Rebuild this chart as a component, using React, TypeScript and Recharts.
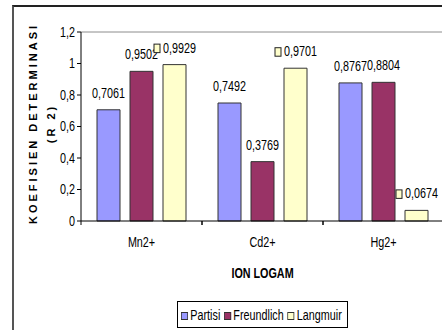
import { BarChart, Bar, XAxis, YAxis, LabelList, Legend, ReferenceLine } from "recharts";

// ion categories and R2 values per isotherm model
const ions = ["Mn2+", "Cd2+", "Hg2+"];
const partisi = [0.7061, 0.7492, 0.8767];
const freundlich = [0.9502, 0.3769, 0.8804];
const langmuir = [0.9929, 0.9701, 0.0674];
const yTicks = [0, 0.2, 0.4, 0.6, 0.8, 1, 1.2];

const series = [
  { key: "partisi", name: "Partisi", color: "#9999FF" },
  { key: "freundlich", name: "Freundlich", color: "#993366" },
  { key: "langmuir", name: "Langmuir", color: "#FFFFCC" },
];

const data = ions.map((ion, i) => ({
  ion,
  partisi: partisi[i],
  freundlich: freundlich[i],
  langmuir: langmuir[i],
}));

const FONT = "'Liberation Sans', Arial, sans-serif";
const SX = 0.77; // horizontal squeeze for the narrow label face

const comma = (v: number) => String(v).replace(".", ",");
const fmt4 = (v: any) => Number(v).toFixed(4).replace(".", ",");

const TICK = 4;
const TICK_GAP = 12;

function NText({ x, y, anchor = "middle", bold = false, dy, children }: any) {
  return (
    <text
      transform={`translate(${x},${y}) scale(${SX},1)`}
      textAnchor={anchor}
      dy={dy}
      fill="#000"
      fontFamily={FONT}
      fontSize={14}
      fontWeight={bold ? "bold" : "normal"}
    >
      {children}
    </text>
  );
}

// category label centred on the band, tick marks on the band edges
function IonTick(props: any) {
  const { x, y, payload, width, visibleTicksCount } = props;
  const half = width / visibleTicksCount / 2;
  const axisY = y - TICK - TICK_GAP;
  return (
    <g>
      <line x1={x - half} x2={x - half} y1={axisY} y2={axisY + TICK} stroke="#000" />
      <line x1={x + half} x2={x + half} y1={axisY} y2={axisY + TICK} stroke="#000" />
      <NText x={x} y={y} dy="0.71em">{payload.value}</NText>
    </g>
  );
}

function ValueTick(props: any) {
  const { x, y, payload } = props;
  return (
    <NText x={x} y={y} anchor="end" dy="0.355em">
      {comma(payload.value)}
    </NText>
  );
}

function XTitle(props: any) {
  const vb = props.viewBox;
  return (
    <NText x={vb.x + vb.width / 2} y={vb.y + vb.height - 3} bold>
      ION LOGAM
    </NText>
  );
}

function YTitle(props: any) {
  const vb = props.viewBox || { x: 0, y: 0, width: 0, height: 0 };
  const cy = vb.y + vb.height / 2 - 3;
  return (
    <g fontFamily={FONT} fontSize={11} fontWeight="bold" fill="#000" textAnchor="middle" style={{ letterSpacing: 3 }}>
      <text transform={`translate(${vb.x + 37}, ${cy}) rotate(-90)`}>KOEFISIEN DETERMINASI</text>
      <text transform={`translate(${vb.x + 55}, ${cy}) rotate(-90)`}>(R 2)</text>
    </g>
  );
}

function ValueLabel(props: any) {
  const vb = props.viewBox || props;
  return (
    <NText x={vb.x + vb.width / 2} y={vb.y - 12}>
      {fmt4(props.value)}
    </NText>
  );
}

// Langmuir labels carry a small legend key in front of the value
function KeyedLabel(props: any) {
  const vb = props.viewBox || props;
  const value = props.value ?? langmuir[props.index];
  const cx = vb.x + vb.width / 2;
  const base = vb.y - 12;
  return (
    <g>
      <rect x={cx - 20.5} y={base - 8.5} width={6} height={8.5} fill="#FFFFCC" stroke="#222" strokeWidth={1} />
      <NText x={cx - 11.5} y={base} anchor="start">
        {fmt4(value)}
      </NText>
    </g>
  );
}

function BoxLegend() {
  return (
    <div
      style={{
        border: "1px solid #000",
        height: 27,
        width: 171,
        boxSizing: "border-box",
        background: "#fff",
        overflow: "hidden",
      }}
    >
      <div
        style={{
          display: "flex",
          alignItems: "center",
          height: 25,
          paddingLeft: 4,
          transform: `scaleX(${SX})`,
          transformOrigin: "left center",
          fontFamily: FONT,
          fontSize: 14,
          color: "#000",
          whiteSpace: "nowrap",
        }}
      >
        {series.map((s) => (
          <span key={s.key} style={{ display: "flex", alignItems: "center", marginRight: 5 }}>
            <span
              style={{
                width: 9,
                height: 8,
                background: s.color,
                border: "1px solid #333",
                boxSizing: "border-box",
                marginRight: 3,
                marginTop: 3,
              }}
            />
            {s.name}
          </span>
        ))}
      </div>
    </div>
  );
}

export default function App() {
  return (
    <div style={{ position: "absolute", left: 0, top: 0, width: 442, height: 330, overflow: "hidden", background: "#fff" }}>
      <div style={{ position: "absolute", left: 0, top: 0, zIndex: 1 }}>
        <BarChart
          width={470}
          height={360}
          data={data}
          margin={{ top: 32, right: 26, left: 0, bottom: 79 }}
          barCategoryGap={16}
          barGap={10}
        >
          <ReferenceLine y={1.2} stroke="#8c8c8c" />
          <XAxis
            dataKey="ion"
            height={60}
            stroke="#000"
            tickLine={false}
            tickSize={TICK}
            tickMargin={TICK_GAP}
            tick={<IonTick />}
            interval={0}
            label={XTitle}
          />
          <YAxis
            width={81}
            domain={[0, 1.2]}
            ticks={yTicks}
            interval={0}
            stroke="#000"
            tickSize={TICK}
            tickMargin={2}
            tick={<ValueTick />}
            label={YTitle}
          />
          {series.map((s) => (
            <Bar
              key={s.key}
              dataKey={s.key}
              name={s.name}
              fill={s.color}
              stroke="#333"
              strokeWidth={1}
              isAnimationActive={false}
            >
              <LabelList dataKey={s.key} content={s.key === "langmuir" ? KeyedLabel : ValueLabel} />
            </Bar>
          ))}
          <Legend
            layout="horizontal"
            verticalAlign="middle"
            align="center"
            content={BoxLegend}
            wrapperStyle={{ left: 177, top: 301, width: 171, height: 27 }}
          />
        </BarChart>
      </div>
      {/* chart-area frame */}
      <div
        style={{
          position: "absolute",
          left: 12,
          top: 5,
          width: 500,
          height: 400,
          borderLeft: "2px solid #555",
          borderTop: "2px solid #222",
          pointerEvents: "none",
          zIndex: 2,
        }}
      />
    </div>
  );
}
